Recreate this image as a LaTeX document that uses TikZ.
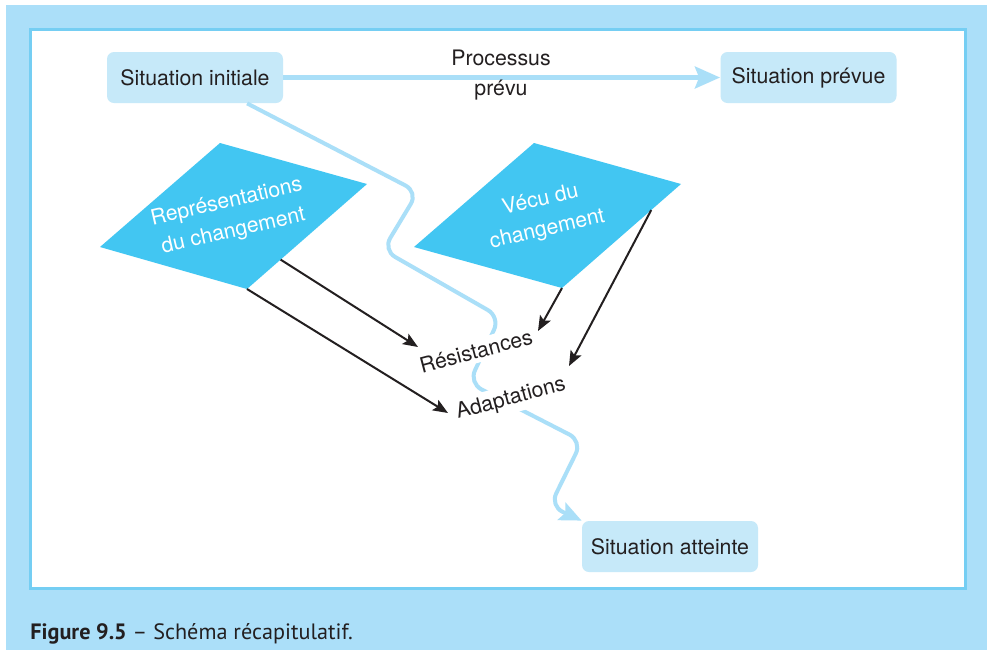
\documentclass[tikz,border=0pt]{standalone}
\usepackage{fontspec}
\setmainfont{TeX Gyre Heros}
\newfontfamily\capfont{PT Sans}
\usetikzlibrary{arrows.meta,calc}

\definecolor{panel}{HTML}{ABDFF9}
\definecolor{frameline}{HTML}{75CEF3}
\definecolor{boxfill}{HTML}{C6E9F9}
\definecolor{shapefill}{HTML}{42C6F2}
\definecolor{flow}{HTML}{AADFF8}
\definecolor{ink}{HTML}{231F20}

\newcommand\diagfont{\fontsize{10.65}{15}\selectfont}

\begin{document}
\begin{tikzpicture}[x=0.5pt,y=-0.5pt,
  sitbox/.style={fill=boxfill, rounded corners=3.5pt, minimum width=88pt,
    minimum height=25.5pt, inner sep=0pt, text=ink, font=\diagfont},
  plain/.style={text=ink, font=\diagfont, align=center},
  shapetext/.style={text=white, font=\diagfont, align=center, rotate=13},
  outcome/.style={text=ink, font=\diagfont, fill=white, inner sep=2pt, rotate=15},
  influence/.style={draw=ink, line width=1pt,
    -{Stealth[length=7.5pt,width=6pt,inset=1.5pt]}},
  flowline/.style={draw=flow, line width=2pt, rounded corners=7pt,
    -{Stealth[length=11pt,width=9.5pt,inset=2pt]}}]

\useasboundingbox (0,0) rectangle (987,650);

% panel and framed drawing area
\fill[panel] (6,5) rectangle (987,650);
\draw[frameline, line width=1.35pt, fill=white] (30.7,29.3) rectangle (965.3,588.7);

% situations
\node[sitbox] (sinit) at (195,77.5) {Situation initiale};
\node[sitbox] (sprev) at (808.5,77.5) {Situation prévue};
\node[sitbox] (satt) at (670,546.5) {Situation atteinte};

% planned process
\draw[draw=flow, line width=2.5pt, -{Stealth[length=12.5pt,width=10.8pt,inset=2pt]}]
  (sinit) -- (sprev);
\node[plain] (proc) at (501,75) {Processus\\prévu};

% the two skewed shapes
\coordinate (r1) at (220,143);
\coordinate (r2) at (367,184);
\coordinate (r3) at (247,289);
\coordinate (r4) at (100,247);
\fill[shapefill] (r1) -- (r2) -- (r3) -- (r4) -- cycle;
\node[shapetext] (repr) at (230,217) {Représentations\\du changement};

\coordinate (v1) at (534,143);
\coordinate (v2) at (681,184);
\coordinate (v3) at (562,288);
\coordinate (v4) at (414,247);
\fill[shapefill] (v1) -- (v2) -- (v3) -- (v4) -- cycle;
\node[shapetext] (vecu) at (544,215) {Vécu du\\changement};

% actual winding path
\draw[flowline]
  ($(sinit.south west)!0.795!(sinit.south east)$) -- (418,192) -- (383,250)
  -- (500,317) -- (469,383) -- (582,441) -- (550,506) -- (satt.north west);

% outcomes
\node[outcome] (res) at (476,351) {Résistances};
\node[outcome] (adap) at (511,399) {Adaptations};

% influences
\coordinate (resL) at (418,347);
\coordinate (resR) at (538,331);
\coordinate (adapL) at (448,413);
\coordinate (adapR) at (569,366);
\draw[influence] ($(r2)!0.72!(r3)$) -- (resL);
\draw[influence] (r3) -- (adapL);
\draw[influence] (v3) -- (resR);
\draw[influence] ($(v2)!0.25!(v3)$) -- (adapR);

% caption
\node[anchor=base west, inner sep=0pt, text=ink,
  font=\capfont\fontsize{11.1}{13}\selectfont] (caption) at (30,639)
  {\textbf{Figure 9.5} – Schéma récapitulatif.};
\end{tikzpicture}
\end{document}
